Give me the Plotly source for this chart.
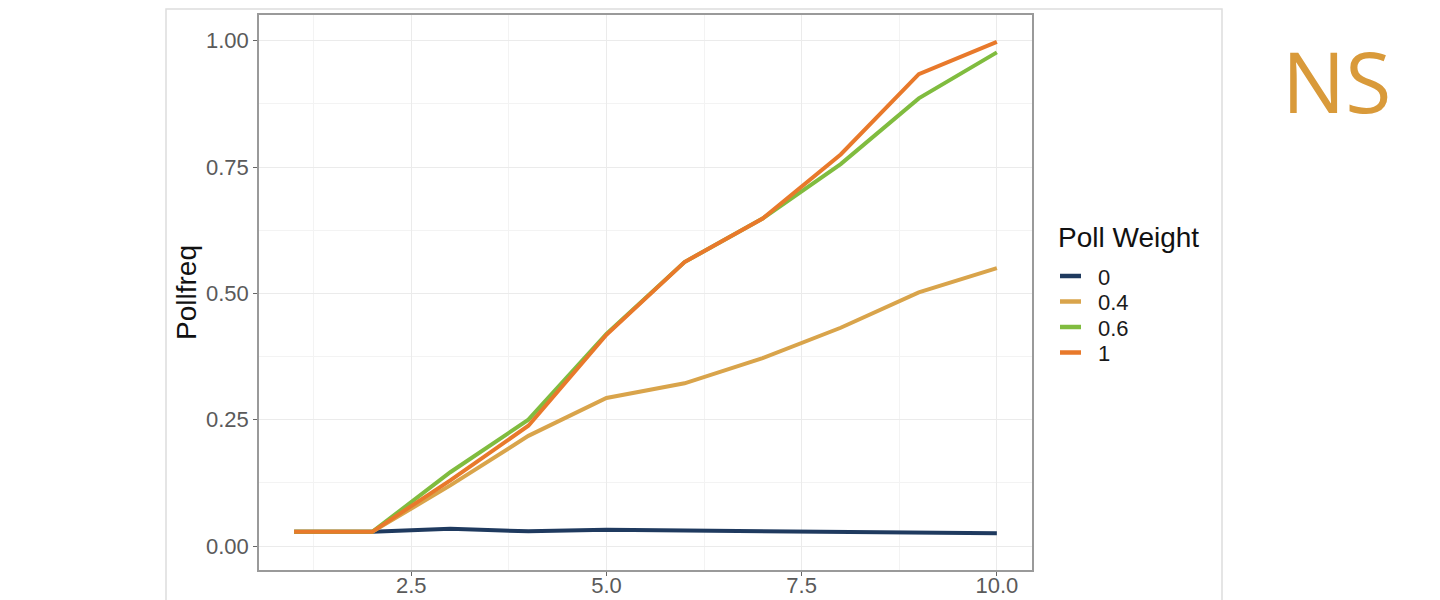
import plotly.graph_objects as go

x_vals = [1, 2, 3, 4, 5, 6, 7, 8, 9, 10]
weights = ["0", "0.4", "0.6", "1"]
w0 = [0.028, 0.028, 0.034, 0.029, 0.032, 0.031, 0.029, 0.029, 0.027, 0.025]
w04 = [0.028, 0.028, 0.120, 0.218, 0.293, 0.322, 0.372, 0.432, 0.502, 0.550]
w06 = [0.028, 0.028, 0.146, 0.250, 0.420, 0.562, 0.648, 0.756, 0.886, 0.977]
w1 = [0.028, 0.028, 0.130, 0.238, 0.418, 0.562, 0.648, 0.775, 0.934, 0.998]
series = [w0, w04, w06, w1]
colors = ["#1F3A5F", "#D9A44B", "#80BC3F", "#E8792B"]

x_ticks = [2.5, 5.0, 7.5, 10.0]
x_tick_text = ["2.5", "5.0", "7.5", "10.0"]
y_ticks = [0.0, 0.25, 0.5, 0.75, 1.0]
y_tick_text = ["0.00", "0.25", "0.50", "0.75", "1.00"]
legend_title = "Poll Weight"

fig = go.Figure()
for name, vals, col in zip(weights, series, colors):
    fig.add_trace(go.Scatter(x=x_vals, y=vals, mode="lines", name=name,
                             line=dict(color=col, width=4), showlegend=False))

OFF = 8  # default page body margin
W, H = 1440, 600
L = 259 - OFF
T = 15 - OFF
R = W + OFF - 1032
B = H + OFF - 570
pw = W - L - R
ph = H - T - B

def px_x(p):
    return (p - OFF - L) / pw

def px_y(p):
    return (H + OFF - B - p) / ph

fig.update_layout(
    width=W, height=H,
    margin=dict(l=L, r=R, t=T, b=B, autoexpand=False),
    paper_bgcolor="white", plot_bgcolor="white",
    font=dict(family="Liberation Sans, Arial, sans-serif"),
    showlegend=False,
    xaxis=dict(
        range=[0.55, 10.45], tickvals=x_ticks, ticktext=x_tick_text,
        showgrid=True, gridcolor="#EBEBEB", gridwidth=1.2,
        minor=dict(tickvals=[1.25, 3.75, 6.25, 8.75], showgrid=True,
                   gridcolor="#F3F3F3", gridwidth=1, ticklen=0),
        showline=True, linecolor="#9a9a9a", linewidth=1.5, mirror=True,
        ticks="outside", ticklen=4, tickcolor="#666666",
        tickfont=dict(size=22, color="#5a5a5a"), zeroline=False,
        automargin=False, ticklabelstandoff=-9,
    ),
    yaxis=dict(
        range=[-0.0475, 1.051], tickvals=y_ticks, ticktext=y_tick_text,
        showgrid=True, gridcolor="#EBEBEB", gridwidth=1.2,
        minor=dict(tickvals=[0.125, 0.375, 0.625, 0.875], showgrid=True,
                   gridcolor="#F3F3F3", gridwidth=1, ticklen=0),
        showline=True, linecolor="#9a9a9a", linewidth=1.5, mirror=True,
        ticks="outside", ticklen=4, tickcolor="#666666",
        tickfont=dict(size=22, color="#5a5a5a"), zeroline=False,
        automargin=False,
        title=dict(text="Pollfreq", font=dict(size=28, color="#111111"), standoff=1),
    ),
)

fig.add_shape(type="rect", xref="paper", yref="paper",
              x0=px_x(166), x1=px_x(1222), y0=px_y(620), y1=px_y(9),
              line=dict(color="#DDDDDD", width=1.5), fillcolor="rgba(0,0,0,0)",
              layer="below")

# legend (drawn manually to match the compact ggplot spacing)
fig.add_annotation(text=legend_title, xref="paper", yref="paper",
                   x=px_x(1056), y=px_y(237), xanchor="left", yanchor="middle",
                   showarrow=False, font=dict(size=28, color="#111111"))
row_y = [276, 301.5, 327, 352.5]
for name, col, ry in zip(weights, colors, row_y):
    fig.add_shape(type="line", xref="paper", yref="paper",
                  x0=px_x(1060), x1=px_x(1081), y0=px_y(ry), y1=px_y(ry),
                  line=dict(color=col, width=4.5))
    fig.add_annotation(text=name, xref="paper", yref="paper",
                       x=px_x(1096), y=px_y(ry + 1), xanchor="left", yanchor="middle",
                       showarrow=False, font=dict(size=22, color="#1a1a1a"))

fig.add_annotation(text="NS", xref="paper", yref="paper",
                   x=px_x(1336), y=px_y(80), xanchor="center", yanchor="middle",
                   showarrow=False,
                   font=dict(size=84, color="#D99A3A", family="Open Sans, sans-serif"))

fig.write_html("out.html")
